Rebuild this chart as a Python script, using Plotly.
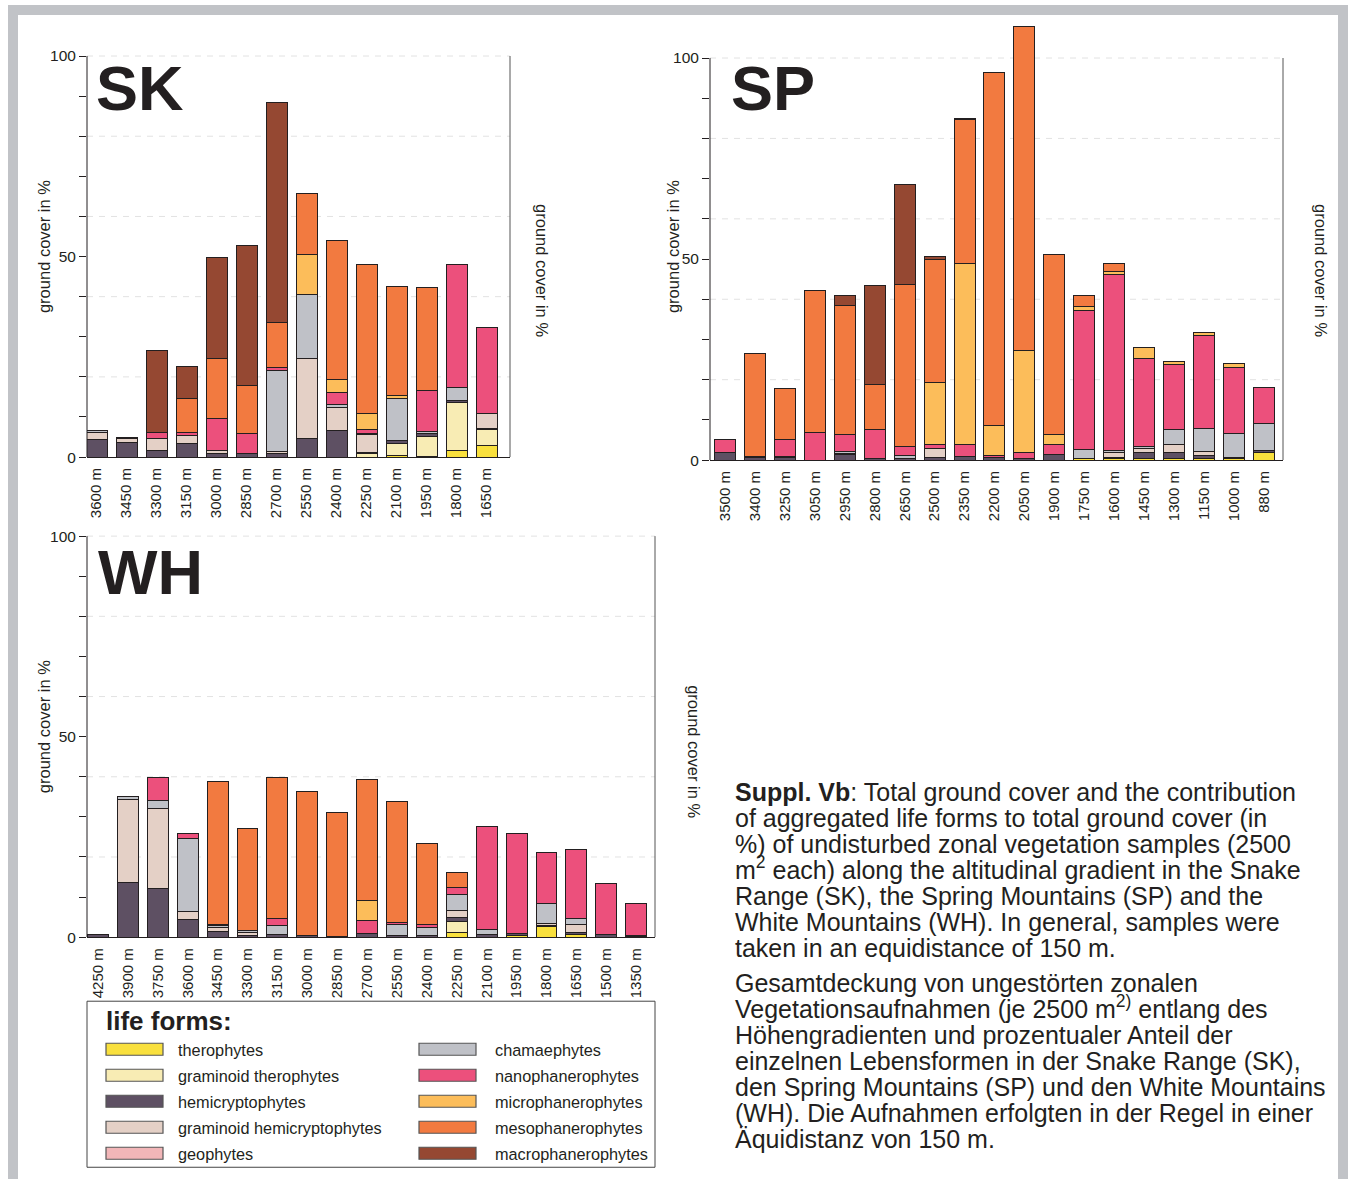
import plotly.graph_objects as go

W, H = 1349, 1179
VSCALE = 0.993  # vertical compensation observed in the rendered page

LIFE_FORMS = ["therophytes", "graminoid therophytes", "hemicryptophytes",
              "graminoid hemicryptophytes", "geophytes", "chamaephytes",
              "nanophanerophytes", "microphanerophytes", "mesophanerophytes",
              "macrophanerophytes"]
COLORS = ["#f9e03d", "#f8ecb4", "#5e5063", "#e4d0c6", "#f2b6b8",
          "#bfc1c7", "#ec507c", "#fcbd5a", "#f27a40", "#954832"]

# ---------------- SK (Snake Range) ----------------
SK_ALT = ["3600 m", "3450 m", "3300 m", "3150 m", "3000 m", "2850 m", "2700 m",
          "2550 m", "2400 m", "2250 m", "2100 m", "1950 m", "1800 m", "1650 m"]
SK_THERO = [0, 0, 0, 0, 0, 0, 0, 0, 0, 0, 0.3, 0.2, 1.7, 3.0]
SK_GTHERO = [0, 0, 0, 0, 0, 0, 0, 0, 0, 0.8, 3.1, 5.0, 11.9, 3.9]
SK_HEMI = [4.4, 3.7, 1.6, 3.5, 0.8, 0.9, 1.0, 4.7, 6.6, 0.4, 0.7, 0.7, 0.6, 0.3]
SK_GHEMI = [1.8, 1.0, 3.1, 1.8, 0.8, 0, 0.5, 19.9, 5.8, 4.5, 0, 0, 0, 3.7]
SK_GEO = [0, 0, 0, 0, 0, 0, 0, 0, 0, 0, 0, 0, 0, 0]
SK_CHAM = [0.5, 0.3, 0, 0, 0, 0, 20.1, 16.0, 0.7, 0.3, 10.5, 0.4, 3.1, 0]
SK_NANO = [0, 0, 1.5, 0.8, 8.1, 4.9, 0.8, 0, 2.9, 0.8, 0, 10.3, 30.8, 21.4]
SK_MICRO = [0, 0, 0, 0, 0, 0, 0, 9.9, 3.3, 4.0, 0.8, 0, 0, 0]
SK_MESO = [0, 0, 0, 8.4, 15.0, 12.1, 11.2, 15.2, 34.7, 37.3, 27.2, 25.6, 0, 0]
SK_MACRO = [0, 0, 20.5, 8.2, 25.0, 34.8, 54.9, 0, 0, 0, 0, 0, 0, 0]

# ---------------- SP (Spring Mountains) ----------------
SP_ALT = ["3500 m", "3400 m", "3250 m", "3050 m", "2950 m", "2800 m", "2650 m",
          "2500 m", "2350 m", "2200 m", "2050 m", "1900 m", "1750 m", "1600 m",
          "1450 m", "1300 m", "1150 m", "1000 m", "880 m"]
SP_THERO = [0, 0, 0, 0, 0, 0, 0, 0, 0, 0, 0, 0, 0.4, 0.3, 0.3, 0.3, 0.5, 0.3, 1.8]
SP_GTHERO = [0, 0, 0, 0, 0, 0, 0, 0, 0, 0, 0, 0, 0, 0, 0, 0, 0, 0, 0]
SP_HEMI = [1.8, 0.6, 0.6, 0, 1.3, 0.4, 0.4, 0.7, 0.8, 0.7, 0.4, 1.4, 0, 0.3, 1.7, 1.6, 0.6, 0.3, 0.7]
SP_GHEMI = [0, 0, 0, 0, 0.4, 0, 0, 2.3, 0, 0, 0, 0, 0, 1.2, 0.9, 1.9, 1.0, 0, 0]
SP_GEO = [0, 0, 0, 0, 0, 0, 0, 0, 0, 0, 0, 0, 0, 0, 0, 0, 0, 0, 0]
SP_CHAM = [0, 0.3, 0.4, 0, 0.5, 0, 0.8, 0, 0, 0, 0, 0, 2.3, 0.5, 0.6, 3.7, 5.8, 6.0, 6.6]
SP_NANO = [3.2, 0, 4.2, 6.9, 4.2, 7.2, 2.3, 0.8, 3.1, 0.5, 1.5, 2.6, 34.5, 43.9, 21.8, 16.4, 23.0, 16.5, 9.0]
SP_MICRO = [0, 0, 0, 0, 0, 0, 0, 15.4, 45.1, 7.5, 25.3, 2.4, 1.1, 0.7, 2.7, 0.5, 0.9, 1.0, 0]
SP_MESO = [0, 25.7, 12.5, 35.4, 32.0, 11.1, 40.2, 30.7, 35.6, 87.8, 80.6, 44.7, 2.7, 1.9, 0, 0, 0, 0, 0]
SP_MACRO = [0, 0, 0, 0, 2.6, 24.6, 24.9, 0.8, 0.3, 0, 0, 0, 0, 0, 0, 0, 0, 0, 0]

# ---------------- WH (White Mountains) ----------------
WH_ALT = ["4250 m", "3900 m", "3750 m", "3600 m", "3450 m", "3300 m", "3150 m",
          "3000 m", "2850 m", "2700 m", "2550 m", "2400 m", "2250 m", "2100 m",
          "1950 m", "1800 m", "1650 m", "1500 m", "1350 m"]
WH_THERO = [0, 0, 0, 0, 0, 0, 0, 0, 0, 0, 0, 0, 1.1, 0, 0.5, 2.7, 0.6, 0, 0.2]
WH_GTHERO = [0, 0, 0, 0, 0, 0, 0, 0, 0, 0, 0, 0, 2.7, 0, 0, 0, 0, 0, 0]
WH_HEMI = [0.7, 13.7, 12.2, 4.4, 1.5, 0.5, 0.7, 0.5, 0.2, 1.0, 0.5, 0.5, 1.0, 0.6, 0.3, 0.3, 0.6, 0.6, 0.3]
WH_GHEMI = [0, 20.7, 19.9, 2.1, 0.8, 0.6, 0, 0, 0, 0, 0, 0, 1.8, 0, 0, 0.3, 1.9, 0, 0]
WH_GEO = [0, 0, 0, 0, 0, 0, 0, 0, 0, 0, 0, 0, 0, 0, 0, 0, 0, 0, 0]
WH_CHAM = [0, 0.8, 2.1, 18.2, 0.5, 0.5, 2.1, 0, 0, 0, 2.7, 2.0, 4.0, 1.2, 0, 5.1, 1.5, 0, 0]
WH_NANO = [0, 0, 5.5, 1.2, 0.3, 0, 1.9, 0, 0, 3.1, 0.5, 0.6, 1.7, 25.9, 25.1, 12.8, 17.3, 12.9, 8.0]
WH_MICRO = [0, 0, 0, 0, 0, 0, 0, 0, 0, 5.0, 0, 0, 0, 0, 0, 0, 0, 0, 0]
WH_MESO = [0, 0, 0, 0, 35.8, 25.6, 35.0, 35.9, 31.0, 30.3, 30.2, 20.3, 3.9, 0, 0, 0, 0, 0, 0]
WH_MACRO = [0, 0, 0, 0, 0, 0, 0, 0, 0, 0, 0, 0, 0, 0, 0, 0, 0, 0, 0]

Y_TICKS = [0, 10, 20, 30, 40, 50, 60, 70, 80, 90, 100]
Y_TICKTEXT = ["0", " ", " ", " ", " ", "50", " ", " ", " ", " ", "100"]
GRID_VALUES = [20, 40, 60, 80, 100]

FONT = "Arial, 'Liberation Sans', Helvetica, sans-serif"
INK = "#231f20"


def px_x(x):
    return x / W


def px_y(y):
    return 1 - (y / VSCALE) / H


panels = [
    dict(name="SK", cats=SK_ALT,
         series=[SK_THERO, SK_GTHERO, SK_HEMI, SK_GHEMI, SK_GEO, SK_CHAM,
                 SK_NANO, SK_MICRO, SK_MESO, SK_MACRO],
         xa="x", ya="y", ya2="y2", x0=87, x1=510, y0=457, ytop=40, ppu=4.01,
         c0=96.5, step=30.0, title_xy=(94, 88), ltitle=(44, 247), rtitle=(542, 270)),
    dict(name="SP", cats=SP_ALT,
         series=[SP_THERO, SP_GTHERO, SP_HEMI, SP_GHEMI, SP_GEO, SP_CHAM,
                 SP_NANO, SP_MICRO, SP_MESO, SP_MACRO],
         xa="x2", ya="y3", ya2="y4", x0=710, x1=1283, y0=460, ytop=20, ppu=4.02,
         c0=725.0, step=29.94, title_xy=(729, 88), ltitle=(673, 247), rtitle=(1321, 270)),
    dict(name="WH", cats=WH_ALT,
         series=[WH_THERO, WH_GTHERO, WH_HEMI, WH_GHEMI, WH_GEO, WH_CHAM,
                 WH_NANO, WH_MICRO, WH_MESO, WH_MACRO],
         xa="x3", ya="y5", ya2="y6", x0=87, x1=655, y0=937, ytop=520, ppu=4.01,
         c0=98.0, step=29.9, title_xy=(96, 572), ltitle=(44, 727), rtitle=(694, 752)),
]

fig = go.Figure()
shapes = []
annotations = []
layout_axes = {}


def axname(ref):
    return ref[0] + "axis" + ref[1:]


for p in panels:
    for k, vals in enumerate(p["series"]):
        fig.add_trace(go.Bar(
            x=p["cats"], y=[v if v > 0 else None for v in vals],
            name=LIFE_FORMS[k], showlegend=False,
            marker=dict(color=COLORS[k], line=dict(color=INK, width=1)),
            xaxis=p["xa"], yaxis=p["ya"],
        ))
    rtop = (p["y0"] - p["ytop"]) / p["ppu"]
    r0 = (p["x0"] - p["c0"]) / p["step"]
    r1 = (p["x1"] - p["c0"]) / p["step"]
    ydom = [px_y(p["y0"]), px_y(p["ytop"])]
    xdom = [px_x(p["x0"]), px_x(p["x1"])]
    layout_axes[axname(p["xa"])] = dict(
        domain=xdom, range=[r0, r1], anchor=p["ya"], type="category",
        tickangle=-90, showline=True, linecolor=INK, linewidth=1,
        ticks="", showgrid=False, zeroline=False, ticklabelstandoff=4,
        tickfont=dict(family=FONT, size=15, color=INK), fixedrange=True,
    )
    common_y = dict(
        range=[0, rtop], tickmode="array", tickvals=Y_TICKS, ticktext=Y_TICKTEXT,
        ticks="outside", ticklen=7, tickwidth=1, showgrid=False, zeroline=False,
        showline=False, tickfont=dict(family=FONT, size=15.5, color=INK),
        fixedrange=True,
    )
    layout_axes[axname(p["ya"])] = dict(domain=ydom, anchor=p["xa"],
                                        tickcolor=INK, **common_y)
    layout_axes[axname(p["ya2"])] = dict(overlaying=p["ya"], side="right",
                                         anchor=p["xa"], tickcolor="#555555",
                                         **common_y)
    # dashed gridlines
    for g in GRID_VALUES:
        shapes.append(dict(type="line", xref=p["xa"] + " domain", yref=p["ya"],
                           x0=0, x1=1, y0=g, y1=g, layer="below",
                           line=dict(color="#e2e2e2", width=1, dash="6px,6px")))
    # axis lines 0..100
    shapes.append(dict(type="line", xref=p["xa"] + " domain", yref=p["ya"],
                       x0=0, x1=0, y0=0, y1=100, line=dict(color=INK, width=1)))
    shapes.append(dict(type="line", xref=p["xa"] + " domain", yref=p["ya"],
                       x0=1, x1=1, y0=0, y1=100, line=dict(color="#555555", width=1)))
    # panel title
    tx, ty = p["title_xy"]
    annotations.append(dict(text="<b>%s</b>" % p["name"], x=px_x(tx), y=px_y(ty),
                            xref="paper", yref="paper", xanchor="left", yanchor="middle",
                            showarrow=False, font=dict(family=FONT, size=63, color=INK)))
    lx, ly = p["ltitle"]
    annotations.append(dict(text="ground cover in %", x=px_x(lx), y=px_y(ly),
                            xref="paper", yref="paper", xanchor="center", yanchor="middle",
                            textangle=-90, showarrow=False,
                            font=dict(family=FONT, size=16.5, color=INK)))
    rx, ry = p["rtitle"]
    annotations.append(dict(text="ground cover in %", x=px_x(rx), y=px_y(ry),
                            xref="paper", yref="paper", xanchor="center", yanchor="middle",
                            textangle=90, showarrow=False,
                            font=dict(family=FONT, size=16.5, color=INK)))

# ---------------- outer frame ----------------
shapes.append(dict(type="rect", xref="paper", yref="paper",
                   x0=px_x(13), x1=px_x(1343), y0=-0.05, y1=px_y(10),
                   line=dict(color="#c1c3c7", width=10), fillcolor="rgba(0,0,0,0)"))

# ---------------- legend box ----------------
shapes.append(dict(type="rect", xref="paper", yref="paper",
                   x0=px_x(87), x1=px_x(655), y0=px_y(1167), y1=px_y(1001),
                   line=dict(color="#444444", width=1), fillcolor="rgba(0,0,0,0)"))
annotations.append(dict(text="<b>life forms:</b>", x=px_x(104), y=px_y(1021),
                        xref="paper", yref="paper", xanchor="left", yanchor="middle",
                        showarrow=False, font=dict(family=FONT, size=26, color=INK)))
row_y = [1049, 1075, 1101, 1127, 1153]
for k, lf in enumerate(LIFE_FORMS):
    col = k // 5
    ry = row_y[k % 5]
    sx0 = 106 if col == 0 else 419
    tx = 176 if col == 0 else 493
    shapes.append(dict(type="rect", xref="paper", yref="paper",
                       x0=px_x(sx0), x1=px_x(sx0 + 57), y0=px_y(ry + 6), y1=px_y(ry - 6),
                       fillcolor=COLORS[k], line=dict(color="#555555", width=1.2)))
    annotations.append(dict(text=lf, x=px_x(tx), y=px_y(ry + 1),
                            xref="paper", yref="paper", xanchor="left", yanchor="middle",
                            showarrow=False, font=dict(family=FONT, size=16.3, color=INK)))

# ---------------- caption ----------------
CAPTION_EN = [
    "<b>Suppl. Vb</b>: Total ground cover and the contribution",
    "of aggregated life forms to total ground cover (in",
    "%) of undisturbed zonal vegetation samples (2500",
    "m<sup>2</sup> each) along the altitudinal gradient in the Snake",
    "Range (SK), the Spring Mountains (SP) and the",
    "White Mountains (WH). In general, samples were",
    "taken in an equidistance of 150 m.",
]
CAPTION_DE = [
    "Gesamtdeckung von ungestörten zonalen",
    "Vegetationsaufnahmen (je 2500 m<sup>2)</sup> entlang des",
    "Höhengradienten und prozentualer Anteil der",
    "einzelnen Lebensformen in der Snake Range (SK),",
    "den Spring Mountains (SP) und den White Mountains",
    "(WH). Die Aufnahmen erfolgten in der Regel in einer",
    "Äquidistanz von 150 m.",
]
CAP_SIZE = 25.0
for i, line in enumerate(CAPTION_EN):
    cy = 793 + 26 * i
    annotations.append(dict(text=line, x=px_x(733), y=px_y(cy + 15),
                            xref="paper", yref="paper", xanchor="left", yanchor="bottom",
                            showarrow=False, font=dict(family=FONT, size=CAP_SIZE, color=INK)))
for i, line in enumerate(CAPTION_DE):
    cy = 984 + 26 * i
    annotations.append(dict(text=line, x=px_x(733), y=px_y(cy + 15),
                            xref="paper", yref="paper", xanchor="left", yanchor="bottom",
                            showarrow=False, font=dict(family=FONT, size=CAP_SIZE, color=INK)))

fig.update_layout(
    width=W, height=H, autosize=False,
    margin=dict(l=0, r=0, t=0, b=0, pad=0),
    barmode="stack", bargap=0.3,
    plot_bgcolor="white", paper_bgcolor="white",
    showlegend=False,
    shapes=shapes, annotations=annotations,
    font=dict(family=FONT, color=INK),
    **layout_axes,
)

fig.write_html("out.html", config={"displayModeBar": False},
               post_script="document.body.style.margin='0';document.body.style.overflow='hidden';")
